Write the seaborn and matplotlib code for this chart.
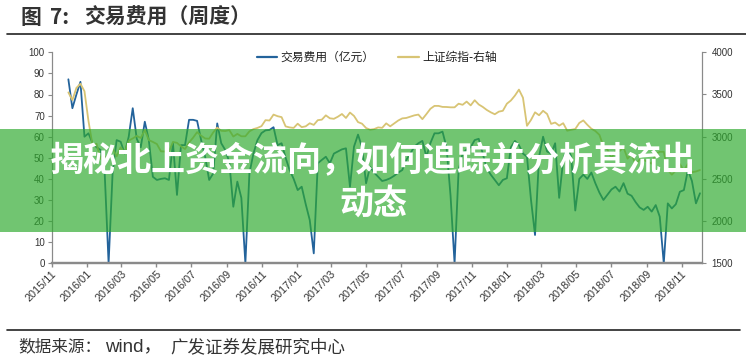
import numpy as np
import pandas as pd
import matplotlib
matplotlib.use("Agg")
import matplotlib.pyplot as plt
import matplotlib.dates as mdates
from matplotlib.lines import Line2D
from matplotlib.patches import Rectangle
import seaborn as sns

# ---------------- data ----------------
start_date = "2015-11-30"
n_weeks = 158

fee = [87.2, 73.5, 80, 86, 60, 61.6, 57, 55, 53.7, 44, 0, 43, 58.4, 57.6, 52, 60, 73.5, 59, 55, 67.1,
       58.4, 41, 39.5, 40, 40.3, 39.5, 56.9, 32.4, 56, 56, 68, 68, 67.5, 58.4, 50.5, 39.5, 42.6, 66.3, 56.9, 53.7,
       48, 26.8, 38.7, 31, 0, 42.6, 52, 58.4, 61.7, 63, 63.2, 64.5, 56, 56.9, 50, 44.2, 40, 34.7, 36.3, 28,
       20.5, 4.7, 47.4, 49, 50.5, 47.4, 52, 53, 54, 54.5, 36.3, 55.3, 61, 55, 37.9, 45.8, 43, 41, 39, 39.5,
       40.3, 41.5, 43, 44.2, 49, 52, 55.3, 56.9, 58, 50.5, 57, 61.6, 61.6, 62.4, 55, 32, 0, 44.2, 52, 54,
       55, 58.4, 59, 52, 45, 42, 39.5, 37, 39.5, 40.3, 55, 58, 56, 52, 50.5, 30, 13.4, 50.5, 60, 53,
       52, 56.9, 31, 49, 55.3, 50.5, 25, 40, 42, 40, 43, 37.9, 33.5, 30, 32.5, 35, 36.3, 34, 38, 33,
       32, 29, 26.5, 25.3, 26.8, 24.5, 27.6, 22.1, 0, 28.4, 26, 28, 33.9, 34.7, 44.2, 39, 28.4, 33.2]

sse = [3525, 3434, 3578, 3627, 3539, 3186, 2900, 2916, 2737, 2763, 2763, 2860, 2767, 2874, 2810, 2955, 2979, 3009, 2985, 3078,
       2960, 2938, 2913, 2827, 2825, 2822, 2938, 2927, 2885, 2854, 2932, 2988, 3054, 3012, 2979, 2976, 3050, 3108, 3070, 3067,
       3078, 3002, 3033, 3005, 3005, 3063, 3090, 3104, 3125, 3196, 3192, 3262, 3243, 3232, 3122, 3110, 3104, 3154, 3113, 3123,
       3159, 3140, 3196, 3202, 3253, 3218, 3212, 3237, 3269, 3222, 3286, 3246, 3173, 3154, 3103, 3083, 3090, 3110, 3105, 3158,
       3123, 3157, 3192, 3217, 3222, 3237, 3253, 3262, 3208, 3268, 3331, 3365, 3365, 3353, 3352, 3348, 3348, 3391, 3378, 3416,
       3371, 3432, 3382, 3353, 3317, 3289, 3266, 3297, 3307, 3391, 3429, 3487, 3558, 3462, 3129, 3199, 3289, 3254, 3307, 3269,
       3152, 3168, 3131, 3160, 3071, 3082, 3091, 3163, 3193, 3141, 3095, 3067, 3022, 2889, 2847, 2747, 2831, 2829, 2874, 2740,
       2795, 2669, 2729, 2725, 2702, 2681, 2797, 2821, 2821, 2606, 2550, 2598, 2676, 2598, 2679, 2579, 2588, 2605]

fee_label = "交易费用（亿元）"
sse_label = "上证综指-右轴"
title_parts = ["图", "7:", "交易费用（周度）"]
source_parts = ["数据来源：", "wind，", "广发证券发展研究中心"]
banner_line1 = "揭秘北上资金流向，如何追踪并分析其流出"
banner_line2 = "动态"
left_ticks = list(range(0, 101, 10))
right_ticks = list(range(1500, 4001, 500))

dates = pd.date_range(start_date, periods=n_weeks, freq="W-MON")
df = pd.DataFrame({"date": dates, "fee": fee, "sse": sse})

# ---------------- style ----------------
sns.set_theme(style="white")
plt.rcParams["font.family"] = ["Noto Sans CJK SC", "DejaVu Sans"]

W, H = 746, 362
fig = plt.figure(figsize=(W / 100, H / 100), dpi=100)
ax = fig.add_axes([51.7 / W, 1 - 263.3 / H, 650 / W, 211 / H])
ax2 = ax.twinx()

blue = "#23639b"
gold = "#d8c474"

sns.lineplot(data=df, x="date", y="fee", ax=ax, color=blue, linewidth=1.3, label=fee_label, legend=False)
sns.lineplot(data=df, x="date", y="sse", ax=ax2, color=gold, linewidth=1.3, label=sse_label, legend=False)

ax.set_ylim(0, 100)
ax2.set_ylim(1500, 4000)
ax.set_yticks(left_ticks)
ax2.set_yticks(right_ticks)
ax.set_xlim(pd.Timestamp("2015-11-01"), pd.Timestamp("2018-12-06"))
ax.xaxis.set_major_locator(mdates.MonthLocator(bymonth=[1, 3, 5, 7, 9, 11]))
ax.xaxis.set_major_formatter(mdates.DateFormatter("%Y/%m"))
ax.set_xlabel("")
ax.set_ylabel("")
ax2.set_ylabel("")

tick_font = ["Liberation Sans", "DejaVu Sans"]
for a in (ax, ax2):
    a.spines["top"].set_visible(False)
    a.spines["left"].set_color("#8a8a8a")
    a.spines["right"].set_color("#8a8a8a")
    a.spines["bottom"].set_color("#8a8a8a")
    a.spines["left"].set_linewidth(0.8)
    a.spines["right"].set_linewidth(0.8)
    a.spines["bottom"].set_linewidth(1.6)
    a.tick_params(axis="y", length=3, width=0.8, color="#8a8a8a", labelsize=7, labelcolor="#333333", pad=2)

ax.tick_params(axis="y", left=True, right=False, direction="out")
ax2.tick_params(axis="y", right=True, left=False, direction="out", pad=4)
ax.tick_params(axis="x", bottom=True, length=3, width=1.0, color="#8a8a8a", direction="out",
               labelsize=7.8, labelcolor="#333333", pad=1)
for lab in ax.get_xticklabels():
    lab.set_rotation(45)
    lab.set_ha("right")
    lab.set_rotation_mode("anchor")
    lab.set_family(tick_font)
for lab in ax.get_yticklabels() + ax2.get_yticklabels():
    lab.set_family(tick_font)

# legend
handles = [Line2D([0], [0], color=blue, lw=1.6), Line2D([0], [0], color=gold, lw=1.6)]
fig.legend(handles, [fee_label, sse_label], loc="center", bbox_to_anchor=(377 / W, 1 - 57.5 / H),
           ncol=2, frameon=False, fontsize=8.5, handlelength=1.7, handletextpad=0.3, columnspacing=2.0,
           labelcolor="#222222")

# title, rules, source
for txt, xp in zip(title_parts, [20, 50, 84]):
    fig.text(xp / W, 1 - 17 / H, txt, fontsize=15, fontweight="bold", color="#333333",
             ha="left", va="center")
fig.add_artist(Line2D([7 / W, 1.0], [1 - 33.5 / H] * 2, transform=fig.transFigure, color="#222222", lw=1.2))
fig.add_artist(Line2D([7 / W, 740 / W], [1 - 329.5 / H] * 2, transform=fig.transFigure, color="#222222", lw=1.2))
src_fonts = [["Noto Sans CJK SC"], ["Liberation Sans", "Noto Sans CJK SC"], ["Noto Sans CJK SC"]]
src_sizes = [12, 13.5, 12.6]
for txt, xp, fam, fs in zip(source_parts, [18, 105, 170], src_fonts, src_sizes):
    fig.text(xp / W, 1 - 347 / H, txt, fontsize=fs, color="#333333", ha="left", va="center", family=fam)

# overlay banner
band = Rectangle((0, 1 - 232 / H), 1, 103 / H, transform=fig.transFigure,
                 facecolor="#2eaa2e", alpha=0.68, edgecolor="none", zorder=10)
fig.add_artist(band)
fig.text(0.5, 1 - 161 / H, banner_line1, fontsize=24.5, fontweight="bold", color="white",
         ha="center", va="center", zorder=11)
fig.text(0.5, 1 - 203 / H, banner_line2, fontsize=24.5, fontweight="bold", color="white",
         ha="center", va="center", zorder=11)

fig.savefig("out.png", dpi=100, facecolor="white")
